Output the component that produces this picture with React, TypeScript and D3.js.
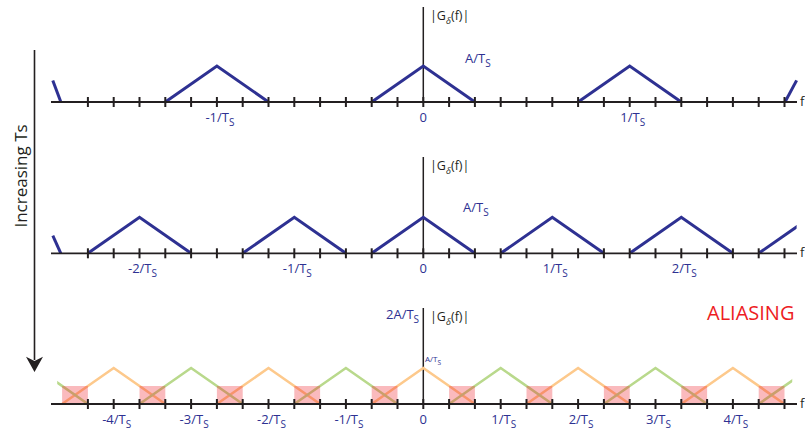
import * as d3 from 'd3'

// frequencies are in tick units (one tick = small mark on the f axis)
const fTicks = d3.range(-13, 15)

const topPeaks = [-8, 0, 8]
const topStubs: [number, number][][] = [
    [[-14.36, 0.6], [-14.05, 0]],
    [[14.02, 0], [14.47, 0.6]],
]
const topLabels: [number, string][] = [[-8, '-1/T'], [0, '0'], [8, '1/T']]

const midPeaks = [-11, -5, 0, 5, 10, 15]
const midStubs: [number, number][][] = [
    [[-14.36, 0.49], [-14.05, 0]],
]
const midLabels: [number, string][] = [[-11, '-2/T'], [-5, '-1/T'], [0, '0'], [5, '1/T'], [10, '2/T']]

const lowEvenPeaks = [-12, -6, 0, 6, 12]
const lowOddPeaks = [-15, -9, -3, 3, 9, 15]
const overlapStarts = [-14, -11, -8, -5, -2, 1, 4, 7, 10, 13]
const lowLabels: [number, string][] = [
    [-12, '-4/T'], [-9, '-3/T'], [-6, '-2/T'], [-3, '-1/T'], [0, '0'],
    [3, '1/T'], [6, '2/T'], [9, '3/T'], [12, '4/T'],
]

const halfWidth = 2

const NAVY = '#2e3192'
const INK = '#231f20'
const ORANGE = '#fdc98c'
const GREEN = '#b9d98c'
const FONT = '"Open Sans", "Noto Sans", sans-serif'

const x = d3.scaleLinear().domain([0, 1]).range([423.3, 449.1])

const tri = (c: number): [number, number][] => [[c - halfWidth, 0], [c, 1], [c + halfWidth, 0]]

type PanelProps = {
    id: string,
    axisY: number,
    axisTop: number,
    clip: [number, number],
    labels: [number, string][],
    children: (y: d3.ScaleLinear<number, number>, line: d3.Line<[number, number]>) => any
}

const Label = ({ fx, y, text }: { fx: number, y: number, text: string }) => (
    <text x={x(fx) + (text === '0' ? 0 : 3)} y={y} textAnchor="middle" fill={NAVY} fontSize={13} fontFamily={FONT}>
        {text}
        {text !== '0' && <tspan fontSize={10} dy={4}>S</tspan>}
    </text>
)

const Panel = ({ id, axisY, axisTop, clip, labels, children }: PanelProps) => {
    const y = d3.scaleLinear().domain([0, 1]).range([axisY, axisY - 36])
    const line = d3.line<[number, number]>().x(d => x(d[0])).y(d => y(d[1]))
    return (
        <g>
            <defs>
                <clipPath id={id}>
                    <rect x={x(clip[0])} y={axisTop - 10} width={x(clip[1]) - x(clip[0])} height={axisY - axisTop + 20} />
                </clipPath>
            </defs>
            <line x1={423.3} x2={423.3} y1={axisTop} y2={axisY} stroke={INK} strokeWidth={1.5} />
            <text x={430} y={axisTop + 13} fill={INK} fontSize={12.5} fontFamily={FONT}>
                |G<tspan fontSize={9} dy={4} fontStyle="italic">δ</tspan><tspan dy={-4}>(f)|</tspan>
            </text>
            <g clipPath={`url(#${id})`}>{children(y, line)}</g>
            <line x1={51} x2={797} y1={axisY} y2={axisY} stroke={INK} strokeWidth={1.8} />
            {fTicks.map(t => (
                <line key={t} x1={x(t)} x2={x(t)} y1={axisY - 5} y2={axisY + 5} stroke={INK} strokeWidth={2} />
            ))}
            <text x={800} y={axisY + 4} fill={INK} fontSize={13} fontFamily={FONT}>f</text>
            {labels.map(([f, t]) => <Label key={f} fx={f} y={axisY + 20} text={t} />)}
        </g>
    )
}

export default function App() {
    return (
        <svg width={805} height={435} style={{ position: 'absolute', left: 0, top: 0, background: '#fff' }}>
            <Panel id="c1" axisY={102} axisTop={7} clip={[-15, 15]} labels={topLabels}>
                {(y, line) => (
                    <g fill="none" stroke={NAVY} strokeWidth={3}>
                        {topPeaks.map(c => <path key={c} d={line(tri(c)) || ''} />)}
                        {topStubs.map((s, i) => <path key={'s' + i} d={line(s) || ''} />)}
                    </g>
                )}
            </Panel>
            <text x={465} y={63} fill={NAVY} fontSize={13} fontFamily={FONT}>A/T<tspan fontSize={10} dy={4}>S</tspan></text>

            <Panel id="c2" axisY={253.3} axisTop={157} clip={[-15, 14.47]} labels={midLabels}>
                {(y, line) => (
                    <g fill="none" stroke={NAVY} strokeWidth={3}>
                        {midPeaks.map(c => <path key={c} d={line(tri(c)) || ''} />)}
                        {midStubs.map((s, i) => <path key={'s' + i} d={line(s) || ''} />)}
                    </g>
                )}
            </Panel>
            <text x={463} y={212} fill={NAVY} fontSize={13} fontFamily={FONT}>A/T<tspan fontSize={10} dy={4}>S</tspan></text>

            <Panel id="c3" axisY={404} axisTop={308} clip={[-14.19, 14.3]} labels={lowLabels}>
                {(y, line) => (
                    <g>
                        <g fill="none" strokeWidth={2.6}>
                            {lowEvenPeaks.map(c => <path key={c} d={line(tri(c)) || ''} stroke={ORANGE} />)}
                            {lowOddPeaks.map(c => <path key={c} d={line(tri(c)) || ''} stroke={GREEN} />)}
                        </g>
                        {overlapStarts.map(s => (
                            <rect key={s} x={x(s)} y={y(0.5)} width={x(s + 1) - x(s)} height={y(0) - y(0.5)}
                                fill="#ee1c25" fillOpacity={0.3} />
                        ))}
                    </g>
                )}
            </Panel>
            <text x={386} y={319} fill={NAVY} fontSize={13} fontFamily={FONT}>2A/T<tspan fontSize={10} dy={4}>S</tspan></text>
            <text x={425} y={362} fill={NAVY} fontSize={8} fontFamily={FONT}>A/T<tspan fontSize={6.5} dy={2.5}>S</tspan></text>
            <text x={707} y={320} fill="#ed1c24" fontSize={20} fontFamily={FONT}>ALIASING</text>

            <line x1={34.5} x2={34.5} y1={50} y2={360} stroke={INK} strokeWidth={1.6} />
            <path d="M26,356.7 L34.5,372 L43,356.7 L34.5,361 Z" fill={INK} />
            <text transform="translate(27,176) rotate(-90)" textAnchor="middle" fill={INK} fontSize={17} fontFamily={FONT}>
                Increasing Ts
            </text>
        </svg>
    )
}
